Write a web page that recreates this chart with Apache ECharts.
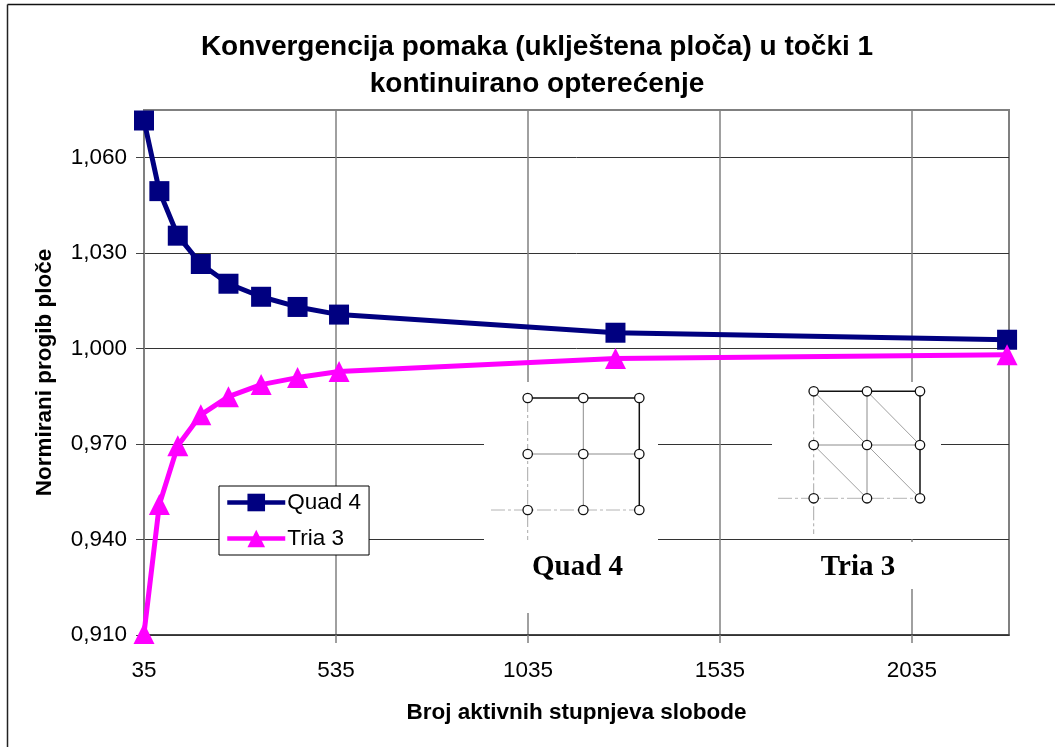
<!DOCTYPE html>
<html>
<head>
<meta charset="utf-8">
<title>Konvergencija pomaka</title>
<script src="https://cdn.jsdelivr.net/npm/echarts@6/dist/echarts.min.js"></script>
<style>
html, body { margin: 0; padding: 0; background: #fff; }
#chart { width: 1055px; height: 747px; }
</style>
</head>
<body>
<div id="chart"></div>
<script>
// vrijednosti ocitane sa slike
const dofQuad = [35, 75, 123, 183, 255, 340, 435, 543, 1263, 2283];
const quad4 = [1.0717, 1.0495, 1.0355, 1.0266, 1.0204, 1.0163, 1.0131, 1.0107, 1.0050, 1.0028];
const dofTria = [35, 75, 123, 183, 255, 340, 435, 543, 1263, 2283];
const tria3 = [0.9105, 0.9510, 0.9695, 0.9792, 0.9849, 0.9887, 0.9909, 0.9928, 0.9969, 0.9981];
const xTicks = [35, 535, 1035, 1535, 2035];
const yTicks = [0.91, 0.94, 0.97, 1.0, 1.03, 1.06];

const FONT = '"Liberation Sans", Arial, sans-serif';
const NAVY = '#000080';
const MAGENTA = '#ff00ff';

function zip(xs, ys) {
    return xs.map((x, i) => [x, ys[i]]);
}

// skica mreze: bijela pozadina, rubovi, cvorovi
function meshGraphic(xs, ys, diagonals, leftEnd, bottomStart) {
    const items = [];
    const line = (x1, y1, x2, y2, stroke, width, dash) => items.push({
        type: 'line', z: 5,
        shape: { x1, y1, x2, y2 },
        style: { stroke, lineWidth: width, lineDash: dash || null }
    });
    const dashDot = [14, 3, 3, 3];
    // unutarnje linije
    line(xs[1], ys[0], xs[1], ys[2], '#8c8c8c', 1);
    line(xs[0], ys[1], xs[2], ys[1], '#8c8c8c', 1);
    diagonals.forEach(d => line(xs[d[0]], ys[d[1]], xs[d[2]], ys[d[3]], '#a0a0a0', 1));
    // os simetrije
    line(xs[0], ys[0], xs[0], leftEnd, '#a8a8a8', 1, dashDot);
    line(bottomStart, ys[2], xs[2], ys[2], '#b4b4b4', 1, dashDot);
    // upeti rubovi
    line(xs[0], ys[0], xs[2], ys[0], '#111', 1.5);
    line(xs[2], ys[0], xs[2], ys[2], '#111', 1.5);
    xs.forEach(x => ys.forEach(y => items.push({
        type: 'circle', z: 6,
        shape: { cx: x, cy: y, r: 4.7 },
        style: { fill: '#fff', stroke: '#111', lineWidth: 1.3 }
    })));
    return items;
}

function patch(x, y, width, height) {
    return { type: 'rect', z: 1, shape: { x, y, width, height }, style: { fill: '#fff' } };
}

function meshLabel(text, x, y) {
    return {
        type: 'text', z: 6, x, y,
        style: {
            text, fill: '#000', align: 'center', verticalAlign: 'middle',
            font: 'bold 29px "Liberation Serif", "Times New Roman", serif'
        }
    };
}

const myChart = echarts.init(document.getElementById('chart'));

const option = {
    animation: false,
    backgroundColor: '#fff',
    textStyle: { fontFamily: FONT },
    title: {
        text: 'Konvergencija pomaka (uklještena ploča) u točki 1\nkontinuirano opterećenje',
        left: 532,
        top: 24,
        textAlign: 'center',
        textStyle: {
            fontFamily: FONT,
            fontSize: 28,
            fontWeight: 'bold',
            color: '#000',
            lineHeight: 37
        }
    },
    legend: {
        left: 219,
        top: 486,
        orient: 'vertical',
        padding: [5, 8, 5, 6],
        itemWidth: 58,
        itemHeight: 22,
        itemGap: 13,
        backgroundColor: '#fff',
        borderColor: '#000',
        borderWidth: 1,
        borderRadius: 0,
        lineStyle: { width: 4.5 },
        textStyle: { fontFamily: FONT, fontSize: 22.5, color: '#000', padding: [0, 0, 0, -3] },
        data: ['Quad 4', 'Tria 3']
    },
    grid: {
        left: 144,
        right: 46,
        top: 110,
        height: 525,
        show: true,
        borderColor: '#808080',
        borderWidth: 2,
        backgroundColor: '#fff'
    },
    xAxis: {
        type: 'value',
        min: 35,
        max: 2288,
        name: 'Broj aktivnih stupnjeva slobode',
        nameLocation: 'middle',
        nameGap: 66,
        nameTextStyle: { fontFamily: FONT, fontSize: 22.5, fontWeight: 'bold', color: '#000' },
        axisLine: { show: true, lineStyle: { color: '#333', width: 1.5 } },
        axisTick: { show: true, length: 8, customValues: xTicks, lineStyle: { color: '#808080', width: 1.5 } },
        axisLabel: {
            show: true,
            customValues: xTicks,
            margin: 24,
            fontFamily: FONT,
            fontSize: 22.5,
            color: '#000',
            formatter: v => String(v)
        },
        splitLine: { show: true, lineStyle: { color: '#808080', width: 1.5 } }
    },
    yAxis: {
        type: 'value',
        min: 0.91,
        max: 1.075,
        name: 'Normirani progib ploče',
        nameLocation: 'middle',
        nameGap: 88,
        nameTextStyle: { fontFamily: FONT, fontSize: 22.5, fontWeight: 'bold', color: '#000' },
        axisLine: { show: true, lineStyle: { color: '#808080', width: 2 } },
        axisTick: { show: true, length: 8, customValues: yTicks, lineStyle: { color: '#444', width: 1 } },
        axisLabel: {
            show: true,
            customValues: yTicks,
            margin: 17,
            fontFamily: FONT,
            fontSize: 22.5,
            color: '#000',
            formatter: v => v.toFixed(3).replace('.', ',')
        },
        splitLine: { show: true, lineStyle: { color: '#333', width: 1 } }
    },
    series: [
        {
            name: 'Quad 4',
            type: 'line',
            data: zip(dofQuad, quad4),
            symbol: 'rect',
            symbolSize: 20,
            clip: false,
            z: 3,
            lineStyle: { color: NAVY, width: 5 },
            itemStyle: { color: NAVY }
        },
        {
            name: 'Tria 3',
            type: 'line',
            data: zip(dofTria, tria3),
            symbol: 'triangle',
            symbolSize: 21,
            clip: false,
            z: 4,
            lineStyle: { color: MAGENTA, width: 5 },
            itemStyle: { color: MAGENTA }
        }
    ],
    graphic: {
        elements: [
            // okvir slike
            { type: 'line', z: 6, shape: { x1: 7.5, y1: 4.5, x2: 1055, y2: 4.5 }, style: { stroke: '#111', lineWidth: 1.5 } },
            { type: 'line', z: 6, shape: { x1: 7.5, y1: 4.5, x2: 7.5, y2: 747 }, style: { stroke: '#222', lineWidth: 1.5 } },
            // bijele podloge ispod skica
            patch(484, 382, 174, 231),
            patch(772, 382, 169, 157),
            patch(772, 542, 169, 47),
            ...meshGraphic([527.7, 583.3, 639.3], [398, 454, 510], [], 540, 491),
            ...meshGraphic([813.7, 867, 920], [391.3, 445, 498.3],
                [[0, 0, 2, 2], [1, 0, 2, 1], [0, 1, 1, 2]], 534, 778),
            meshLabel('Quad 4', 577.5, 568),
            meshLabel('Tria 3', 858, 568)
        ]
    }
};

myChart.setOption(option);

window.addEventListener('resize', () => {
    myChart.resize();
});
</script>
</body>
</html>
